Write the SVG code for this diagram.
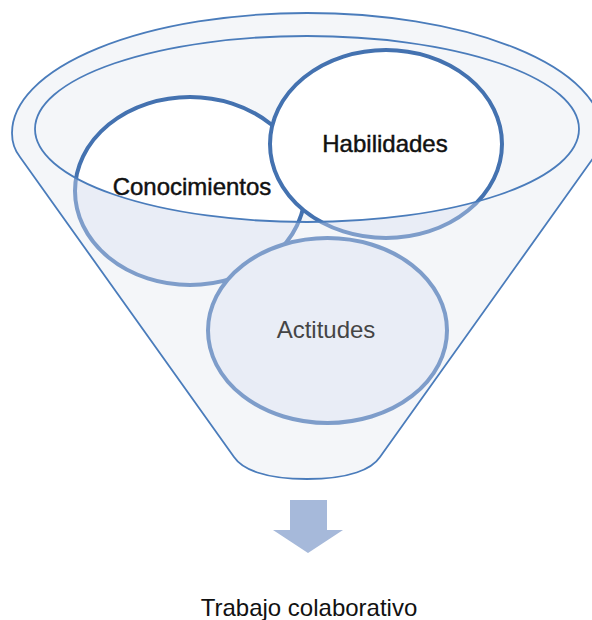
<svg xmlns="http://www.w3.org/2000/svg" width="592" height="620" viewBox="0 0 592 620">
  <style>
    .rim { fill: none; stroke: #4a7cbb; stroke-width: 1.8; }
    .funnel { fill: #f4f6f9; stroke: #4a7cbb; stroke-width: 1.8; }
    .top { fill: #ffffff; stroke: #4472b0; stroke-width: 4; }
    .low { fill: #e9edf6; stroke: #7e9dca; stroke-width: 4; }
    .lbl { font-family: "Liberation Sans", Arial, sans-serif; font-size: 24px; text-anchor: middle; }
    .strong { fill: #111111; stroke: #111111; stroke-width: 0.45; }
  </style>
  <defs>
    <!-- opening of the funnel: circles are white inside it -->
    <clipPath id="opening">
      <ellipse cx="307" cy="129" rx="272" ry="93"/>
    </clipPath>
    <!-- everything outside the opening: the funnel body tints the circles -->
    <clipPath id="body">
      <path clip-rule="evenodd" d="M0,0H592V620H0Z M35,129 A272,93 0 1,0 579,129 A272,93 0 1,0 35,129Z"/>
    </clipPath>
  </defs>

  <!-- funnel shell -->
  <g id="funnel">
    <path class="funnel" d="M20,157 Q12,147 12,133 A295,120 0 0,1 602,133 Q602,147 594,157 L380,457 C372,469 350,479 307,479 C264,479 242,469 234,457 Z"/>
  </g>

  <g id="node-conocimientos">
    <ellipse class="top" clip-path="url(#opening)" cx="190" cy="191" rx="115" ry="94"/>
    <ellipse class="low" clip-path="url(#body)" cx="190" cy="191" rx="115" ry="94"/>
  </g>

  <g id="node-habilidades">
    <ellipse class="top" clip-path="url(#opening)" cx="386" cy="144" rx="116" ry="94"/>
    <ellipse class="low" clip-path="url(#body)" cx="386" cy="144" rx="116" ry="94"/>
  </g>

  <g id="node-actitudes">
    <ellipse class="low" cx="327.5" cy="330.5" rx="119.5" ry="92.5"/>
  </g>

  <!-- inner rim of the funnel mouth, drawn over the circles -->
  <g id="rim">
    <ellipse class="rim" cx="307" cy="129" rx="272" ry="93"/>
  </g>

  <g id="labels">
    <text class="lbl strong" x="192" y="195">Conocimientos</text>
    <text class="lbl strong" x="385" y="152" font-size="24.5">Habilidades</text>
    <text class="lbl" x="326" y="338" fill="#454545">Actitudes</text>
  </g>

  <g id="connectors">
    <path d="M290,500 H327 V530 H343 L308,553 L273,530 H290 Z" fill="#a6b9da"/>
  </g>

  <g id="node-result">
    <text class="lbl" x="309" y="616" fill="#111111" font-size="25">Trabajo colaborativo</text>
  </g>
</svg>
